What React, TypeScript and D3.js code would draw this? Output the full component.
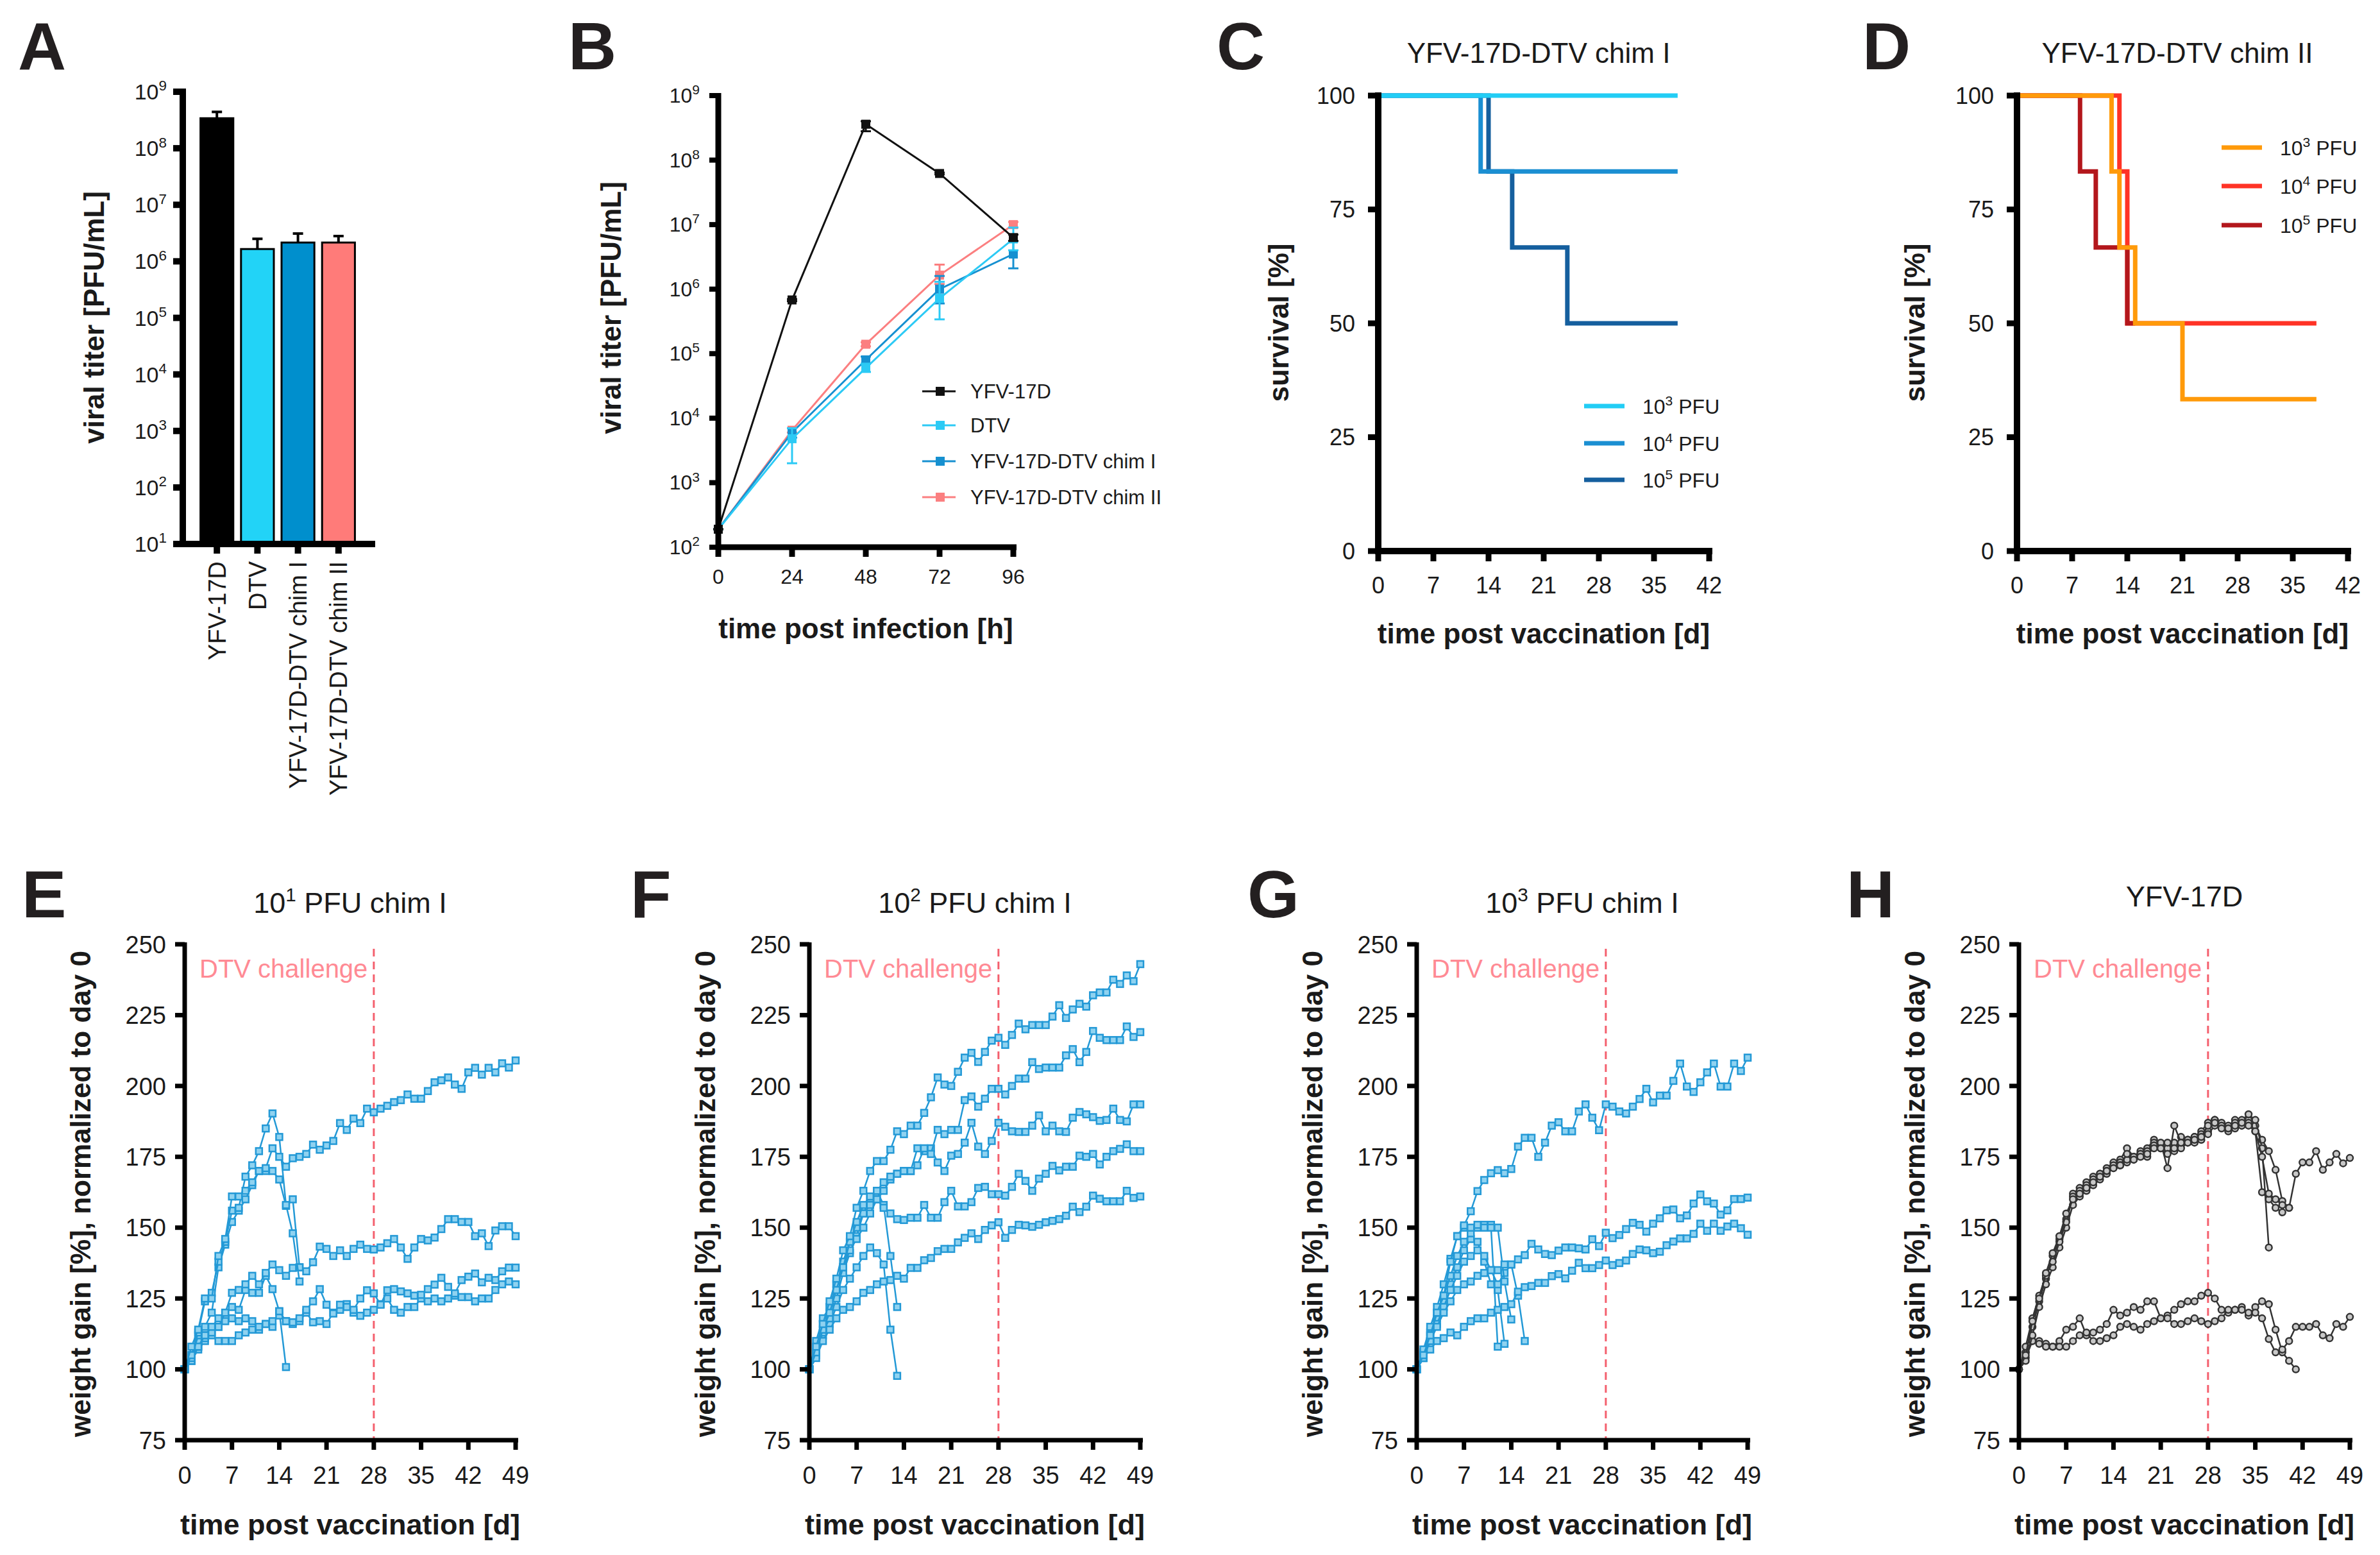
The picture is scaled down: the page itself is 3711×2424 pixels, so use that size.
import * as d3 from "d3";
import React from "react";

const FONT = "'Liberation Sans', Arial, Helvetica, sans-serif";
const INK = "#1a1a1a";

// ---------- A: titer bars ----------
const titerGroups = ["YFV-17D", "DTV", "YFV-17D-DTV chim I", "YFV-17D-DTV chim II"];
const titerMean = [3.4e8, 1.65e6, 2.15e6, 2.15e6];
const titerUpper = [4.4e8, 2.5e6, 3.1e6, 2.8e6];
const titerColors = ["#000000", "#22d3f7", "#008fcd", "#ff7b79"];
const titerExponents = [1, 2, 3, 4, 5, 6, 7, 8, 9];

// ---------- B: growth kinetics ----------
const hours = [0, 24, 48, 72, 96];
const kineticExponents = [2, 3, 4, 5, 6, 7, 8, 9];
const yfvMean = [190, 6.8e5, 3.6e8, 6.2e7, 6.3e6];
const yfvLo = [190, 6.5e5, 2.8e8, 6.0e7, 5.6e6];
const yfvHi = [190, 7.0e5, 4.0e8, 6.4e7, 7.0e6];
const dtvMean = [190, 4.8e3, 6.0e4, 7.2e5, 6.0e6];
const dtvLo = [190, 2.0e3, 5.2e4, 3.4e5, 4.0e6];
const dtvHi = [190, 7.0e3, 7.0e4, 1.3e6, 9.0e6];
const chim1Mean = [190, 6.0e3, 8.0e4, 1.0e6, 3.5e6];
const chim1Lo = [190, 5.0e3, 7.0e4, 6.0e5, 2.1e6];
const chim1Hi = [190, 7.0e3, 9.0e4, 1.6e6, 5.5e6];
const chim2Mean = [190, 6.5e3, 1.4e5, 1.65e6, 1.0e7];
const chim2Lo = [190, 6.0e3, 1.3e5, 1.2e6, 9.0e6];
const chim2Hi = [190, 7.0e3, 1.5e5, 2.4e6, 1.1e7];

// ---------- C / D: survival ----------
const dayTicks42 = [0, 7, 14, 21, 28, 35, 42];
const survivalTicks = [0, 25, 50, 75, 100];
const chimI_1e3: [number, number][] = [[0, 100], [38, 100]];
const chimI_1e4: [number, number][] = [[0, 100], [13, 83.33], [38, 83.33]];
const chimI_1e5: [number, number][] = [[0, 100], [14, 83.33], [17, 66.67], [24, 50], [38, 50]];
const chimII_1e3: [number, number][] = [[0, 100], [12, 83.33], [13, 66.67], [15, 50], [21, 33.33], [38, 33.33]];
const chimII_1e4: [number, number][] = [[0, 100], [13, 83.33], [14, 50], [38, 50]];
const chimII_1e5: [number, number][] = [[0, 100], [8, 83.33], [10, 66.67], [14, 50], [15, 50]];

// ---------- E-H: weight, one array per mouse, index = day ----------
const dayTicks49 = [0, 7, 14, 21, 28, 35, 42, 49];
const weightTicks = [75, 100, 125, 150, 175, 200, 225, 250];

const e1 = [100, 108, 114, 125, 125, 140, 146, 161, 161, 163, 166, 170, 171, 178, 175, 171.5, 174.5, 175, 176, 179.3, 177.5, 179, 180.6, 186.9, 184.5, 188.5, 186.9, 192, 190.7, 192, 193, 194.3, 195, 197, 195.5, 195.5, 198.2, 201.3, 202, 203, 200.5, 199, 204.8, 206.4, 204, 206.4, 204.8, 208, 206.5, 209];
const e2 = [100, 105, 113, 124, 127, 138, 145, 156, 157, 168, 172, 177, 185, 190.3, 182, 158, 148, 131];
const e3 = [100, 104, 112, 115, 120, 136, 144, 152, 156, 160, 165, 170, 170, 170, 167, 157.7, 160, 136];
const e4 = [100, 103, 108, 112, 115, 118, 120, 127, 128, 130, 133, 130, 134, 137, 135, 133, 135.8, 136, 134.6, 137.8, 143.3, 142.5, 140, 142, 140, 142.5, 144, 142.5, 142.3, 143, 144.5, 146, 143, 139, 143, 146, 145.5, 146.5, 149.5, 153, 153, 152, 152, 147, 148, 143.5, 149, 150.5, 150.5, 147];
const e5 = [100, 103, 108, 112, 113, 115, 120, 122, 121, 128, 127, 127, 133, 128.3, 120.5, 117, 116.6, 118, 121, 124, 128.3, 122.8, 119.7, 122.8, 122, 121, 125, 127.9, 126.8, 122.8, 127.9, 128.3, 127.5, 126.8, 126, 126.3, 128.3, 129.9, 132.3, 129.1, 126.8, 131.5, 132.7, 133.8, 130.7, 132.3, 131.5, 134.6, 135.9, 135.9];
const e6 = [100, 105, 110, 111, 112, 110, 110, 110, 112, 113, 114, 115, 116, 117, 119, 117, 116, 117, 120, 116.6, 117, 116, 120, 121, 123, 120, 118.9, 120, 121, 123, 125, 121, 120, 122, 122, 125, 124, 125, 124, 125, 126, 125.5, 125.5, 124, 125, 125, 128, 130, 131, 130];
const e7 = [100, 103, 107, 110, 113, 115, 117, 118, 117, 118, 117, 114, 116, 115, 120.5, 100.8];

const f1 = [100, 108, 116, 124, 132, 142, 147, 157, 163, 170, 173.5, 173.5, 177.5, 184, 183, 186, 186, 190.5, 196, 203, 200.5, 200, 205, 210, 211.7, 208.5, 212, 216, 217, 214.5, 218, 222, 220, 221.5, 221.5, 221.5, 224.5, 228.5, 224, 227, 229, 228, 232, 233, 233, 237.5, 236, 239, 237, 243];
const f2 = [100, 106, 114, 120, 128, 136, 145, 152, 158, 161, 163, 166, 168, 169, 170, 170, 172, 178, 176, 184.5, 183, 184.5, 184.5, 195, 196.3, 192.7, 195.5, 199, 199, 197, 200, 202.6, 202.6, 208.4, 206, 206.5, 206.5, 206.5, 210.8, 213, 208.4, 212, 219.4, 217, 216.2, 216.2, 216.2, 221, 217.3, 219];
const f3 = [100, 110, 118, 122, 130, 136, 142, 146, 150, 155, 160, 163, 167, 169, 170, 170, 178, 177, 178, 173, 170, 175.4, 176, 180, 187, 178.6, 176, 180.6, 187, 185.6, 184, 183.8, 183.8, 186, 189.6, 184, 186, 184, 183.8, 188.8, 190.8, 190, 189, 187.7, 188, 192, 188, 187.5, 193.5, 193.5];
const f4 = [100, 108, 116, 122, 130, 138, 145, 150, 155, 158, 160, 157, 155, 153, 152.7, 153.5, 153.5, 158, 153.5, 153.5, 159, 163, 157.5, 157.5, 159, 164, 164.4, 161.8, 161.8, 161.3, 164.4, 169, 166.5, 163, 167.3, 169, 171.8, 170.2, 171.5, 171.5, 175.4, 175, 176, 172.3, 175, 177, 177.8, 179.4, 177, 177];
const f5 = [100, 104, 110, 114, 118, 121, 122, 124, 127, 128, 130, 131, 131.5, 133, 132, 135.8, 135.8, 138.5, 139.3, 141.7, 142.5, 142.5, 144.8, 146.4, 148, 146, 149.2, 150.8, 151.9, 146.4, 149.2, 151, 150.8, 150.3, 151, 151.9, 152.4, 153, 154.2, 157.4, 155.5, 157.4, 161.3, 160.2, 159.3, 159.3, 159.3, 163, 160.5, 161];
const f6 = [100, 106, 113, 118, 125, 134, 141, 147, 155, 160, 163, 158, 140, 122];
const f7 = [100, 105, 112, 116, 122, 128, 132, 136, 140, 143, 141, 137, 114, 97.7];

const g1 = [100, 105, 112, 120, 126, 138, 147, 150.8, 155.8, 162.9, 166.8, 169.2, 170.3, 169.2, 170.7, 178.6, 181.7, 181.7, 175, 180, 186, 187.2, 184, 184, 191, 193.5, 188.8, 184.4, 193.5, 192.7, 191, 190.3, 192.7, 195.4, 199, 194.2, 196.6, 196.6, 201.8, 207.9, 199.8, 197.9, 201.3, 204.8, 207.9, 199.8, 199.8, 207.9, 205.3, 210];
const g2 = [100, 104, 110, 115, 120, 124, 128, 130, 131, 133, 134, 135, 135, 137, 137, 138.8, 140.3, 144.3, 142.3, 140.7, 140.3, 141.9, 143, 143, 142.7, 142.3, 145.9, 143.5, 148.2, 146.3, 147.4, 149.5, 151.7, 151, 148.6, 151.4, 153.3, 156.1, 156.4, 153.3, 154.3, 158.5, 161.7, 159.3, 158.5, 154.6, 156.1, 160.1, 160.1, 160.6];
const g3 = [100, 104, 107, 110, 111, 113, 112, 115, 117, 118, 118, 120, 121, 122, 123, 127.4, 129, 129.4, 130.5, 130.5, 132.9, 133.6, 132.1, 134.8, 137.6, 135.7, 135.7, 136.8, 138.4, 136.8, 137.5, 138.4, 140.7, 142.3, 142, 141, 141.5, 143.8, 145.1, 146.2, 146.2, 147.8, 151.4, 148.9, 151.4, 148.9, 150.4, 151.4, 149.8, 147.5];
const g4 = [100, 107, 115, 122, 130, 139, 147, 150, 150, 151, 150, 150, 108];
const g5 = [100, 105, 112, 120, 126, 133, 140, 145, 148, 150, 151, 151, 150, 131, 117.6];
const g6 = [100, 104, 110, 116, 122, 128, 133, 138, 140, 142, 140, 135, 130, 134, 137, 126, 110];
const g7 = [100, 106, 113, 118, 124, 130, 136, 142, 146, 145, 138, 130, 128, 109];

const h1 = [100, 105, 117, 125, 134, 141, 147, 155, 160, 162, 164, 166, 168, 170, 171, 172, 176, 174, 175, 176, 178, 178, 176, 178, 180, 180, 181, 182, 186, 187, 185, 185, 186, 187, 186, 184, 175, 162, 160, 158, 157, 169, 173, 173, 177, 170.4, 173, 176, 172.7, 174.6];
const h2 = [100, 108, 118, 126, 133, 138, 145, 152, 161, 163, 165, 167, 169, 170, 172, 172, 174, 175, 176, 175, 179, 180, 171, 186, 180, 181, 182, 183, 183, 186, 186, 185, 187, 188, 190, 188, 178, 143];
const h3 = [100, 103, 112, 122, 130, 136, 143, 150, 158, 161, 163, 165, 167, 169, 171, 173, 173, 174, 176, 177, 180, 179, 180, 177, 182, 181, 180, 181, 184, 188, 187, 186, 188, 186, 187, 186, 181, 177, 170.4, 159.4, 157];
const h4 = [100, 106, 115, 124, 132, 140, 146, 153, 162, 164, 166, 168, 169, 171, 173, 174, 178, 175, 177, 178, 181, 178, 178, 180, 178, 180, 182, 184, 187, 188, 186, 184, 185, 186, 188, 184, 162.5, 160, 157, 155.4];
const h5 = [100, 104, 110, 109, 108, 108, 108, 108, 110, 112, 113, 110, 110, 111, 112, 115, 116, 115, 114, 116, 117, 118, 118, 116, 116, 117, 118, 117, 116, 117, 118, 121, 121, 121, 120, 120, 118, 110.7, 106, 107, 110, 115, 115, 115, 116, 112, 111, 116, 115, 118.5];
const h6 = [100, 106, 110, 110, 109, 108, 110, 114, 115, 118, 112, 113, 114, 116, 121, 119, 120, 122, 121, 124, 124, 118, 119, 121, 123, 124, 124, 126, 127, 125, 121, 120, 121, 122, 119, 122, 124, 123, 114, 106, 103, 100];

// superscript helper: "10" + raised exponent (+ optional trailing text)
function Sup({ exp, fs, after = "" }: { exp: string | number; fs: number; after?: string }) {
  const up = fs * 0.4;
  return (
    <>
      <tspan>10</tspan>
      <tspan dy={-up} fontSize={fs * 0.66}>{exp}</tspan>
      {after ? <tspan dy={up} fontSize={fs}>{after}</tspan> : null}
    </>
  );
}

const Letter = ({ x, y, children }) => (
  <text x={x} y={y} fontSize={104} fontWeight="bold" fill="#231f20">{children}</text>
);

const VLabel = ({ x, y, children, fs = 44 }) => (
  <text transform={`translate(${x},${y}) rotate(-90)`} textAnchor="middle" dy="0.35em"
        fontSize={fs} fontWeight="bold" fill={INK}>{children}</text>
);

function PanelA() {
  const axisX = 285, bottom = 848, top = 143;
  const y = d3.scaleLog().domain([1e1, 1e9]).range([bottom, top]);
  const x = d3.scaleBand().domain(titerGroups).range([281, 585]).paddingInner(0.19).paddingOuter(0.5);
  const bw = x.bandwidth();
  return (
    <g>
      <Letter x={28} y={108}>A</Letter>
      <VLabel x={147} y={495}>viral titer [PFU/mL]</VLabel>
      {titerGroups.map((g, i) => {
        const cx = x(g)! + bw / 2;
        return (
          <g key={g}>
            <line x1={cx} x2={cx} y1={y(titerMean[i])} y2={y(titerUpper[i])} stroke="#000" strokeWidth={4} />
            <line x1={cx - 8} x2={cx + 8} y1={y(titerUpper[i])} y2={y(titerUpper[i])} stroke="#000" strokeWidth={4} />
            <rect x={x(g)} y={y(titerMean[i])} width={bw} height={bottom - y(titerMean[i])}
                  fill={titerColors[i]} stroke="#000" strokeWidth={3} />
            <line x1={cx} x2={cx} y1={bottom} y2={bottom + 15} stroke="#000" strokeWidth={10} />
            <text transform={`translate(${cx},${bottom + 27}) rotate(-90)`} textAnchor="end" dy="0.35em"
                  fontSize={38} fill={INK}>{g}</text>
          </g>
        );
      })}
      <line x1={axisX} x2={axisX} y1={top - 5} y2={bottom + 5} stroke="#000" strokeWidth={10} />
      <line x1={270} x2={585} y1={bottom} y2={bottom} stroke="#000" strokeWidth={10} />
      {titerExponents.map(e => (
        <g key={e}>
          <line x1={270} x2={axisX} y1={y(10 ** e)} y2={y(10 ** e)} stroke="#000" strokeWidth={10} />
          <text x={260} y={y(10 ** e)} dy={12} textAnchor="end" fontSize={34} fill={INK}>
            <Sup exp={e} fs={34} />
          </text>
        </g>
      ))}
    </g>
  );
}

function PanelB() {
  const axisX = 1120, bottom = 853, top = 149;
  const x = d3.scaleLinear().domain([0, 96]).range([axisX, 1580]);
  const y = d3.scaleLog().domain([1e2, 1e9]).range([bottom, top]);
  const series = [
    { name: "YFV-17D-DTV chim II", color: "#fb7f80", mean: chim2Mean, lo: chim2Lo, hi: chim2Hi },
    { name: "YFV-17D-DTV chim I", color: "#1690d0", mean: chim1Mean, lo: chim1Lo, hi: chim1Hi },
    { name: "DTV", color: "#2ccaf5", mean: dtvMean, lo: dtvLo, hi: dtvHi },
    { name: "YFV-17D", color: "#111111", mean: yfvMean, lo: yfvLo, hi: yfvHi },
  ];
  const legendOrder = [3, 2, 1, 0];
  const legendY = [610, 663, 719, 775];
  const line = d3.line<number>().x((_, i) => x(hours[i])).y(d => y(d));
  return (
    <g>
      <Letter x={886} y={108}>B</Letter>
      <VLabel x={953} y={480}>viral titer [PFU/mL]</VLabel>
      {series.map(s => (
        <g key={s.name}>
          <path d={line(s.mean)!} fill="none" stroke={s.color} strokeWidth={3} />
          {hours.map((h, i) => (
            <g key={h}>
              <line x1={x(h)} x2={x(h)} y1={y(s.lo[i])} y2={y(s.hi[i])} stroke={s.color} strokeWidth={3} />
              <line x1={x(h) - 8} x2={x(h) + 8} y1={y(s.lo[i])} y2={y(s.lo[i])} stroke={s.color} strokeWidth={3} />
              <line x1={x(h) - 8} x2={x(h) + 8} y1={y(s.hi[i])} y2={y(s.hi[i])} stroke={s.color} strokeWidth={3} />
              <rect x={x(h) - 7} y={y(s.mean[i]) - 7} width={14} height={14} fill={s.color} />
            </g>
          ))}
        </g>
      ))}
      <line x1={axisX} x2={axisX} y1={top - 4} y2={bottom + 4} stroke="#000" strokeWidth={9} />
      <line x1={axisX} x2={1585} y1={bottom} y2={bottom} stroke="#000" strokeWidth={9} />
      {kineticExponents.map(e => (
        <g key={e}>
          <line x1={1106} x2={axisX} y1={y(10 ** e)} y2={y(10 ** e)} stroke="#000" strokeWidth={8} />
          <text x={1091} y={y(10 ** e)} dy={11} textAnchor="end" fontSize={32} fill={INK}>
            <Sup exp={e} fs={32} />
          </text>
        </g>
      ))}
      {hours.map(h => (
        <g key={h}>
          <line x1={x(h)} x2={x(h)} y1={bottom} y2={bottom + 15} stroke="#000" strokeWidth={9} />
          <text x={x(h)} y={910} textAnchor="middle" fontSize={32} fill={INK}>{h}</text>
        </g>
      ))}
      <text x={1350} y={995} textAnchor="middle" fontSize={44} fontWeight="bold" fill={INK}>time post infection [h]</text>
      {legendOrder.map((si, r) => {
        const s = series[si];
        return (
          <g key={s.name}>
            <line x1={1438} x2={1490} y1={legendY[r]} y2={legendY[r]} stroke={s.color} strokeWidth={3} />
            <rect x={1459} y={legendY[r] - 7} width={14} height={14} fill={s.color} />
            <text x={1513} y={legendY[r]} dy="0.36em" fontSize={31} fill={INK}>{s.name}</text>
          </g>
        );
      })}
    </g>
  );
}

function SurvivalPanel({ letter, letterX, axisX, title, labelX, curves, legend, legendX, legendY }) {
  const top = 149, bottom = 859;
  const x = d3.scaleLinear().domain([0, 42]).range([axisX, axisX + 516]);
  const y = d3.scaleLinear().domain([0, 100]).range([bottom, top]);
  const step = d3.line<[number, number]>().x(d => x(d[0])).y(d => y(d[1])).curve(d3.curveStepAfter);
  const cx = (x(0) + x(42)) / 2;
  return (
    <g>
      <Letter x={letterX} y={108}>{letter}</Letter>
      <text x={cx - 8} y={98} textAnchor="middle" fontSize={44} fill={INK}>{title}</text>
      <VLabel x={labelX} y={503}>survival [%]</VLabel>
      {curves.map((c, i) => (
        <path key={i} d={step(c.data)!} fill="none" stroke={c.color} strokeWidth={7} />
      ))}
      <line x1={axisX} x2={axisX} y1={top - 5} y2={bottom + 5} stroke="#000" strokeWidth={10} />
      <line x1={axisX} x2={x(42) + 5} y1={bottom} y2={bottom} stroke="#000" strokeWidth={10} />
      {survivalTicks.map(t => (
        <g key={t}>
          <line x1={axisX - 16} x2={axisX} y1={y(t)} y2={y(t)} stroke="#000" strokeWidth={9} />
          <text x={axisX - 36} y={y(t)} dy="0.36em" textAnchor="end" fontSize={36} fill={INK}>{t}</text>
        </g>
      ))}
      {dayTicks42.map(t => (
        <g key={t}>
          <line x1={x(t)} x2={x(t)} y1={bottom} y2={bottom + 16} stroke="#000" strokeWidth={9} />
          <text x={x(t)} y={925} textAnchor="middle" fontSize={36} fill={INK}>{t}</text>
        </g>
      ))}
      <text x={cx} y={1003} textAnchor="middle" fontSize={44} fontWeight="bold" fill={INK}>time post vaccination [d]</text>
      {legend.map((l, r) => (
        <g key={r}>
          <line x1={legendX} x2={legendX + 63} y1={legendY[r]} y2={legendY[r]} stroke={l.color} strokeWidth={7} />
          <text x={legendX + 91} y={legendY[r]} dy="0.36em" fontSize={32} fill={INK}>
            <Sup exp={l.exp} fs={32} after=" PFU" />
          </text>
        </g>
      ))}
    </g>
  );
}

function WeightPanel({ letter, letterX, axisX, title, mice, color, markerFill, round = false, titleY = 1423 }) {
  const top = 1472, bottom = 2245;
  const x = d3.scaleLinear().domain([0, 49]).range([axisX, axisX + 516]);
  const y = d3.scaleLinear().domain([75, 250]).range([bottom, top]);
  const line = d3.line<number>().x((_, i) => x(i)).y(d => y(d));
  const cx = (x(0) + x(49)) / 2;
  return (
    <g>
      <Letter x={letterX} y={1430}>{letter}</Letter>
      <text x={cx} y={titleY} textAnchor="middle" fontSize={45} fill={INK}>{title}</text>
      <VLabel x={axisX - 162} y={1861}>weight gain [%], normalized to day 0</VLabel>
      <line x1={x(28)} x2={x(28)} y1={top + 7} y2={bottom} stroke="#f4606e" strokeWidth={3} strokeDasharray="12 8" />
      <text x={axisX + 23} y={1524} fontSize={40} fill="#ff8a94">DTV challenge</text>
      {mice.map((m, k) => (
        <g key={k}>
          <path d={line(m)!} fill="none" stroke={color} strokeWidth={2.5} />
          {m.map((v, i) => round
            ? <circle key={i} cx={x(i)} cy={y(v)} r={5} fill={markerFill} stroke={color} strokeWidth={2.5} />
            : <rect key={i} x={x(i) - 5} y={y(v) - 5} width={10} height={10} fill={markerFill} stroke={color} strokeWidth={2.5} />)}
        </g>
      ))}
      <line x1={axisX} x2={axisX} y1={top - 3} y2={bottom + 3} stroke="#000" strokeWidth={7} />
      <line x1={axisX} x2={x(49) + 4} y1={bottom} y2={bottom} stroke="#000" strokeWidth={7} />
      {weightTicks.map(t => (
        <g key={t}>
          <line x1={axisX - 15} x2={axisX} y1={y(t)} y2={y(t)} stroke="#000" strokeWidth={7} />
          <text x={axisX - 29} y={y(t)} dy="0.36em" textAnchor="end" fontSize={38} fill={INK}>{t}</text>
        </g>
      ))}
      {dayTicks49.map(t => (
        <g key={t}>
          <line x1={x(t)} x2={x(t)} y1={bottom} y2={bottom + 15} stroke="#000" strokeWidth={7} />
          <text x={x(t)} y={2313} textAnchor="middle" fontSize={38} fill={INK}>{t}</text>
        </g>
      ))}
      <text x={cx} y={2392} textAnchor="middle" fontSize={45} fontWeight="bold" fill={INK}>time post vaccination [d]</text>
    </g>
  );
}

export default function App() {
  const blue = "#2399d6";
  const blueFill = "#8fd2f0";
  return (
    <svg width={3711} height={2424} viewBox="0 0 3711 2424"
         style={{ position: "absolute", left: 0, top: 0, background: "#fff" }}
         fontFamily={FONT}>
      <rect width={3711} height={2424} fill="#fff" />
      <PanelA />
      <PanelB />
      <SurvivalPanel
        letter="C" letterX={1897} axisX={2149} labelX={1994} title="YFV-17D-DTV chim I"
        curves={[
          { data: chimI_1e5, color: "#155f9e" },
          { data: chimI_1e4, color: "#1b8fd2" },
          { data: chimI_1e3, color: "#22cdf5" },
        ]}
        legend={[{ exp: 3, color: "#22cdf5" }, { exp: 4, color: "#1b8fd2" }, { exp: 5, color: "#155f9e" }]}
        legendX={2470} legendY={[633, 691, 748]}
      />
      <SurvivalPanel
        letter="D" letterX={2904} axisX={3145} labelX={2986} title="YFV-17D-DTV chim II"
        curves={[
          { data: chimII_1e4, color: "#ff3326" },
          { data: chimII_1e5, color: "#b3171c" },
          { data: chimII_1e3, color: "#ff9a0a" },
        ]}
        legend={[{ exp: 3, color: "#ff9a0a" }, { exp: 4, color: "#ff3326" }, { exp: 5, color: "#b3171c" }]}
        legendX={3464} legendY={[230, 290, 351]}
      />
      <WeightPanel letter="E" letterX={34} axisX={288} title={<Sup exp={1} fs={45} after=" PFU chim I" />}
                   mice={[e7, e6, e5, e4, e3, e2, e1]} color={blue} markerFill={blueFill} />
      <WeightPanel letter="F" letterX={983} axisX={1262} title={<Sup exp={2} fs={45} after=" PFU chim I" />}
                   mice={[f7, f6, f5, f4, f3, f2, f1]} color={blue} markerFill={blueFill} />
      <WeightPanel letter="G" letterX={1945} axisX={2209} title={<Sup exp={3} fs={45} after=" PFU chim I" />}
                   mice={[g7, g6, g5, g4, g3, g2, g1]} color={blue} markerFill={blueFill} />
      <WeightPanel letter="H" letterX={2879} axisX={3148} title="YFV-17D" titleY={1413}
                   mice={[h6, h5, h4, h3, h2, h1]} color="#333333" markerFill="#c8c8c8" round />
    </svg>
  );
}
